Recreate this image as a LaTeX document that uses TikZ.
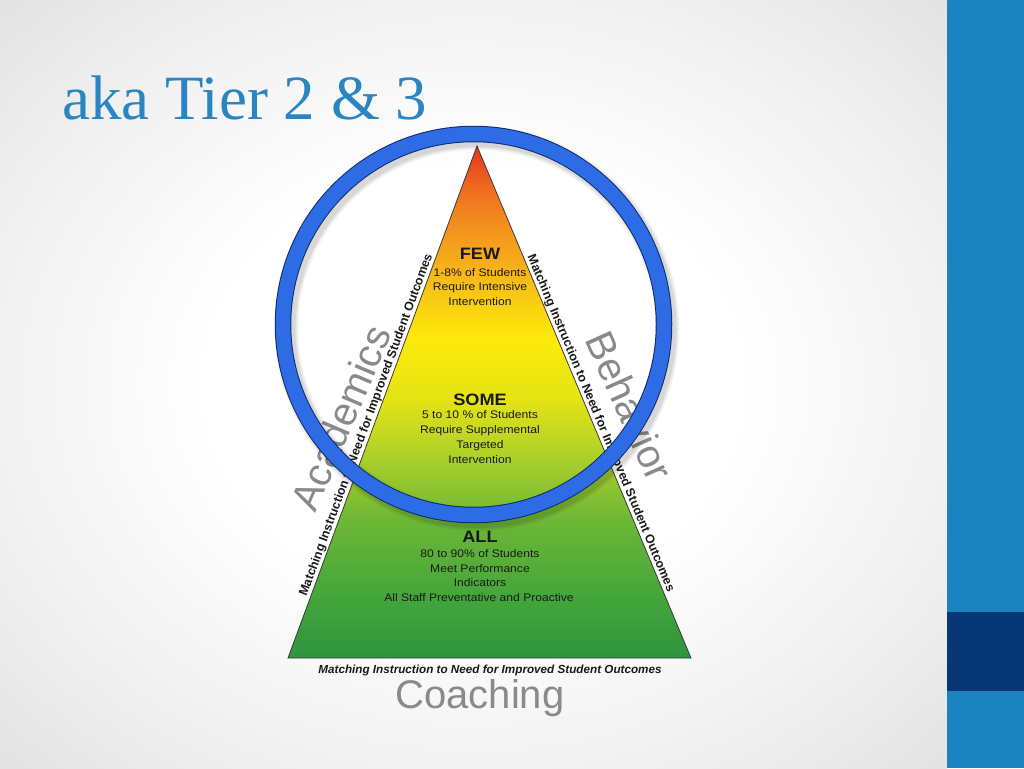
\documentclass[tikz,border=0pt]{standalone}
\usepackage{fontspec}
\newfontfamily\arial{Liberation Sans}
\newfontfamily\pyr[FakeStretch=1.1]{Liberation Sans}
\newfontfamily\ttl{Liberation Serif}
\definecolor{barblue}{HTML}{1B83BF}
\definecolor{bardark}{HTML}{063878}
\definecolor{titleblue}{HTML}{2A85C3}
\definecolor{ringblue}{HTML}{2E6CE6}
\definecolor{ringline}{HTML}{0F2A6E}
\definecolor{wordgray}{HTML}{8A8A8A}
\definecolor{txt}{HTML}{1A1A1A}
\definecolor{edge}{HTML}{3A3A3A}
\definecolor{bg1}{HTML}{F2F2F2}
\definecolor{bg2}{HTML}{E2E2E2}
\definecolor{pg0}{HTML}{2F9440}
\definecolor{pg1}{HTML}{42A53A}
\definecolor{pg2}{HTML}{6DB736}
\definecolor{pg3}{HTML}{A9CF2B}
\definecolor{pg4}{HTML}{E3E315}
\definecolor{pg5}{HTML}{FCEB0A}
\definecolor{pg6}{HTML}{F9CC12}
\definecolor{pg7}{HTML}{F6A81B}
\definecolor{pg8}{HTML}{F07A1E}
\definecolor{pg9}{HTML}{E8341E}
\pgfdeclareverticalshading{pyramid}{100bp}{color(0bp)=(pg0); color(25bp)=(pg0); color(30.7bp)=(pg1); color(38.5bp)=(pg2); color(44.3bp)=(pg3); color(50.2bp)=(pg4); color(56bp)=(pg5); color(60bp)=(pg6); color(64.4bp)=(pg7); color(69.7bp)=(pg8); color(75bp)=(pg9); color(100bp)=(pg9)}
\pgfdeclareradialshading{vign}{\pgfpoint{0bp}{0bp}}{color(0bp)=(white); color(14bp)=(white); color(25bp)=(bg1); color(36bp)=(bg2); color(50bp)=(bg2)}
\tikzset{
  head/.style={font=\pyr\bfseries\fontsize{16.5}{18}\selectfont, text=txt, inner sep=0pt, anchor=base},
  ln/.style={font=\pyr\fontsize{11}{13}\selectfont, text=txt, inner sep=0pt, anchor=base},
  sidelab/.style={font=\arial\bfseries\fontsize{12.4}{14}\selectfont, text=txt, inner sep=1pt},
  botlab/.style={font=\arial\bfseries\itshape\fontsize{11.7}{14}\selectfont, text=txt, inner sep=0pt, anchor=base},
  bigword/.style={font=\arial\fontsize{40}{44}\selectfont, text=wordgray, inner sep=0pt},
  titletext/.style={font=\ttl\fontsize{63}{70}\selectfont, text=titleblue, inner sep=0pt, anchor=base west}
}
\begin{document}
\begin{tikzpicture}[x=1pt,y=-1pt]
\useasboundingbox (0,0) rectangle (1024,768);
\shade[shading=vign] (0,0) rectangle (947,768);
\fill[barblue] (947,0) rectangle (1024,768);
\fill[bardark] (947,612) rectangle (1024,691);
\node[titletext] (title) at (62,119) {aka Tier 2 \& 3};
% pyramid
\coordinate (A) at (477,146);
\coordinate (L) at (288,658);
\coordinate (R) at (691,658);
\shade[shading=pyramid, draw=edge, line width=0.8pt, line join=miter] (A) -- (R) -- (L) -- cycle;
\node[head] (few) at (480,259) {FEW};
\node[ln] (few1) at (480,276) {1-8\% of Students};
\node[ln] (few2) at (480,290.5) {Require Intensive};
\node[ln] (few3) at (480,305) {Intervention};
\node[head] (some) at (480,405) {SOME};
\node[ln] (some1) at (480,418.5) {5 to 10 \% of Students};
\node[ln] (some2) at (480,433.5) {Require Supplemental};
\node[ln] (some3) at (480,448) {Targeted};
\node[ln] (some4) at (480,463) {Intervention};
\node[head] (all) at (480,542) {ALL};
\node[ln] (all1) at (480,557) {80 to 90\% of Students};
\node[ln] (all2) at (480,572) {Meet Performance};
\node[ln] (all3) at (480,586.5) {Indicators};
\node[ln] (all4) at (479,601) {All Staff Preventative and Proactive};
% big gray words
\node[bigword, rotate=67] (acad) at (341,418) {Academics};
\node[bigword, rotate=-66] (behav) at (630,406) {Behavior};
\node[bigword, anchor=base] (coach) at (480,708) {Coaching};
% edge labels
\path (L) -- (A) node[sidelab, pos=0.45, sloped, above] (lside) {Matching Instruction to Need for Improved Student Outcomes};
\path (A) -- (R) node[sidelab, pos=0.547, sloped, above] (rside) {Matching Instruction to Need for Improved Student Outcomes};
\node[botlab] (blab) at (490,673) {Matching Instruction to Need for Improved Student Outcomes};
% ring
\coordinate (O) at (473.5,324.5);
\foreach \w/\op in {24/0.04,21/0.05,18/0.07} {
  \draw[black, opacity=\op, line width=\w pt] (477,328.5) circle (190.5);
}
\draw[ringline, line width=16.5pt] (O) circle (190.5);
\draw[ringblue, line width=14.5pt] (O) circle (190.5);
\end{tikzpicture}
\end{document}
